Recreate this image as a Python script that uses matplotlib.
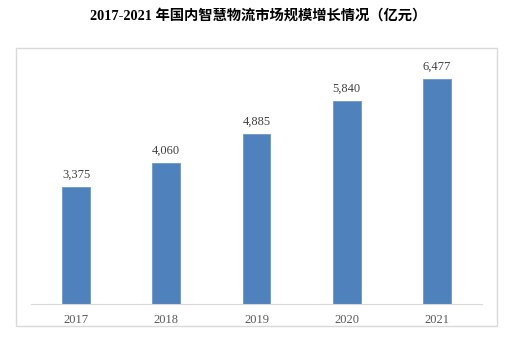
import matplotlib.pyplot as plt
from matplotlib.patches import Rectangle

# Market size of domestic smart logistics, 100 million yuan
years = ["2017", "2018", "2019", "2020", "2021"]
values = [3375, 4060, 4885, 5840, 6477]
labels = ["3,375", "4,060", "4,885", "5,840", "6,477"]

W, H = 516, 346
fig = plt.figure(figsize=(W / 100, H / 100), dpi=100)

# light grey frame around the chart body
fig.patches.append(Rectangle((16 / W, 1 - 326 / H), (497 - 16) / W, (326 - 48) / H,
                             transform=fig.transFigure, fill=False,
                             edgecolor="#d9d9d9", linewidth=1.0))

ax = fig.add_axes([31 / W, 1 - 304 / H, (482 - 31) / W, (304 - 61) / H])
x = range(len(years))
bars = ax.bar(x, values, width=0.31, color="#4f81bd", edgecolor="#6f97c9", linewidth=0.6)
ax.set_xlim(-0.5, 4.5)
ax.set_ylim(0, 7000)

for b, lab in zip(bars, labels):
    ax.text(b.get_x() + b.get_width() / 2, b.get_height() + 180, lab,
            ha="center", va="bottom", fontsize=9, color="#404040",
            family="Liberation Serif")

ax.set_xticks(list(x))
ax.set_xticklabels(years, fontsize=9, color="#595959", family="Liberation Serif")
ax.tick_params(axis="x", length=0, pad=7)
ax.set_yticks([])
for side in ["top", "left", "right"]:
    ax.spines[side].set_visible(False)
ax.spines["bottom"].set_color("#d9d9d9")

fig.text(0.5, 1 - 16 / H, "2017-2021 年国内智慧物流市场规模增长情况（亿元）",
         ha="center", va="center", fontsize=10.3, fontweight="bold",
         family=["Liberation Serif", "Noto Sans CJK SC"])

fig.savefig("out.png", dpi=100)
